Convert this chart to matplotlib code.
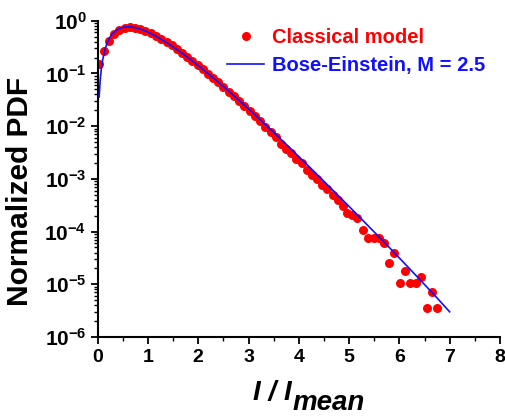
import numpy as np
import matplotlib.pyplot as plt

plt.rcParams['font.family'] = ['Liberation Sans', 'DejaVu Sans']
plt.rcParams['font.weight'] = 'bold'
plt.rcParams['mathtext.fontset'] = 'custom'
plt.rcParams['mathtext.rm'] = 'Liberation Sans:bold'
plt.rcParams['mathtext.it'] = 'Liberation Sans:bold:italic'
plt.rcParams['mathtext.bf'] = 'Liberation Sans:bold'

# classical model (red dots)
x_dots = [0.02, 0.12, 0.23, 0.33, 0.43, 0.54, 0.64, 0.74, 0.85, 0.95,
          1.06, 1.16, 1.26, 1.37, 1.47, 1.57, 1.68, 1.78, 1.88, 1.99,
          2.09, 2.19, 2.30, 2.40, 2.50, 2.61, 2.71, 2.81, 2.92, 3.02,
          3.13, 3.23, 3.33, 3.44, 3.54, 3.64, 3.75, 3.85, 3.95, 4.06,
          4.16, 4.26, 4.37, 4.47, 4.57, 4.68, 4.78, 4.88, 4.96, 5.06,
          5.16, 5.27, 5.37, 5.49, 5.59, 5.69, 5.80, 5.90, 6.01, 6.11,
          6.22, 6.33, 6.43, 6.54, 6.64, 6.75]
y_dots = [0.15, 0.27, 0.42, 0.56, 0.67, 0.72, 0.75, 0.74, 0.70, 0.65,
          0.59, 0.52, 0.46, 0.40, 0.34, 0.29, 0.245, 0.205, 0.172, 0.144,
          0.121, 0.099, 0.082, 0.068, 0.056, 0.0455, 0.037, 0.030, 0.0245, 0.0198,
          0.0158, 0.0125, 0.0098, 0.0077, 0.0061, 0.0046, 0.0037, 0.0031, 0.0024, 0.0020,
          0.0015, 0.0012, 9.8e-4, 7.6e-4, 6.4e-4, 5.0e-4, 3.9e-4, 3.1e-4, 2.3e-4, 2.1e-4,
          1.8e-4, 1.08e-4, 7.7e-5, 7.7e-5, 7.7e-5, 6.0e-5, 2.5e-5, 3.9e-5, 1.07e-5, 1.8e-5,
          1.07e-5, 1.07e-5, 1.4e-5, 3.6e-6, 7.2e-6, 3.6e-6]

# Bose-Einstein, M = 2.5 (blue line)
x_line = [0.03, 0.05, 0.07, 0.1, 0.15, 0.2, 0.25, 0.3, 0.4, 0.5,
          0.6, 0.7, 0.8, 0.9, 1.0, 1.2, 1.4, 1.6, 1.8, 2.0,
          2.25, 2.5, 2.75, 3.0, 3.25, 3.5, 3.75, 4.0, 4.25, 4.5,
          4.75, 5.0, 5.25, 5.5, 5.75, 6.0, 6.25, 6.5, 6.75, 7.0]
y_line = [0.0358, 0.0733, 0.1156, 0.1831, 0.2968, 0.4033, 0.4974, 0.5770, 0.6919, 0.7531,
          0.7710, 0.7567, 0.7198, 0.669, 0.6102, 0.4866, 0.3719, 0.2756, 0.1995, 0.1417,
          0.0904, 0.05672, 0.03499, 0.02137, 0.01285, 0.00765, 0.00452, 0.00265, 0.00155, 9.0e-4,
          5.2e-4, 3.0e-4, 1.72e-4, 9.8e-5, 5.6e-5, 3.15e-5, 1.77e-5, 9.9e-6, 5.5e-6, 3.0e-6]

fig = plt.figure(figsize=(5.06, 4.16), dpi=100)
ax = fig.add_axes([0.193, 0.19, 0.795, 0.76])

ax.plot(x_dots, y_dots, 'o', color='#ff0000', ms=6.5, mec='none', label='Classical model', zorder=2)
ax.plot(x_line, y_line, '-', color='#1010ff', lw=1.2, label='Bose-Einstein, M = 2.5', zorder=3)

ax.set_yscale('log')
ax.set_xlim(0, 8)
ax.set_ylim(1e-6, 1)

ax.spines['top'].set_visible(False)
ax.spines['right'].set_visible(False)
ax.spines['left'].set_linewidth(1.5)
ax.spines['bottom'].set_linewidth(1.5)

ax.set_xticks(range(0, 9))
ax.set_xticks(np.arange(0.5, 8, 1.0), minor=True)
decades = [-6, -5, -4, -3, -2, -1, 0]
ax.set_yticks([10.0 ** d for d in decades])
ax.set_yticklabels([r'$\mathbf{10^{%d}}$' % d for d in decades])
ax.yaxis.set_minor_locator(plt.matplotlib.ticker.LogLocator(base=10, subs=np.arange(2, 10), numticks=20))
ax.yaxis.set_minor_formatter(plt.NullFormatter())
ax.tick_params(axis='both', which='major', length=5, width=1.3, direction='out')
ax.tick_params(axis='x', which='major', labelsize=14)
ax.tick_params(axis='y', which='major', labelsize=15, pad=3)
ax.tick_params(axis='both', which='minor', length=3, width=1.0, direction='out')
for lab in ax.get_xticklabels():
    lab.set_fontweight('bold')

ax.set_ylabel('Normalized PDF', fontsize=21.5, fontweight='bold')
ax.yaxis.set_label_coords(-0.158, 0.459)

# x label: "I / I" with large subscript "mean"
fig.text(253 / 506, 1 - 400 / 416, 'I / I', fontsize=20, style='italic',
         fontweight='bold', va='baseline', ha='left')
fig.text(293 / 506, 1 - 410 / 416, 'mean', fontsize=20, style='italic',
         fontweight='bold', va='baseline', ha='left')

leg = ax.legend(loc='upper right', bbox_to_anchor=(0.993, 1.015), frameon=False,
                handlelength=1.8, handletextpad=0.4, borderaxespad=0.2, labelspacing=0.45,
                prop={'weight': 'bold', 'size': 14.5})
leg.get_texts()[0].set_color('#ff0000')
leg.get_texts()[1].set_color('#1010ff')

fig.savefig('out.png', dpi=100)
